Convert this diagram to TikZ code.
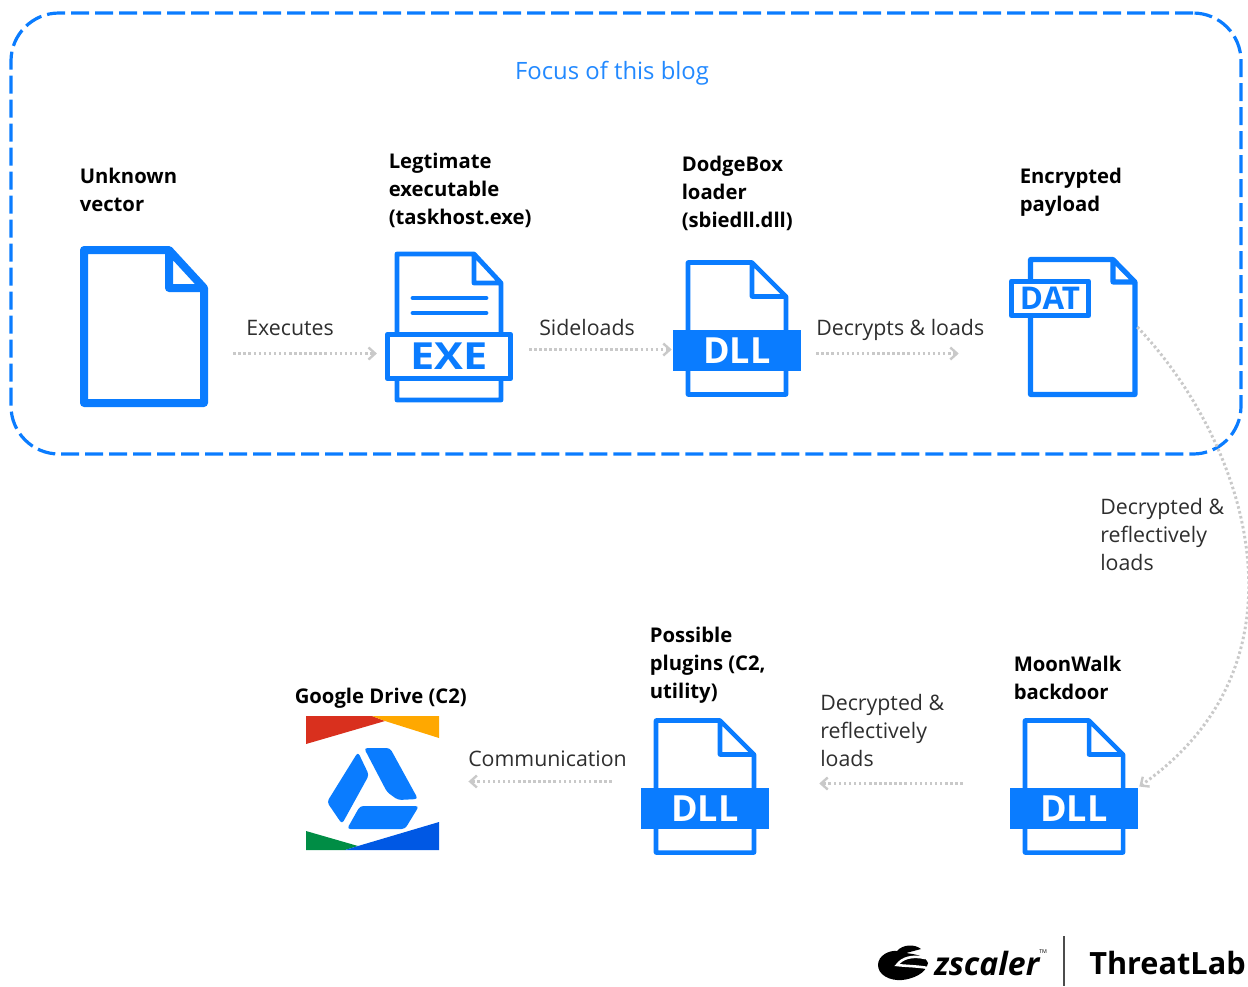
\documentclass[tikz,border=0pt]{standalone}
\usepackage{fontspec}
\setmainfont{Open Sans}
\newfontfamily\widefont[FakeStretch=1.16]{Open Sans}
\usepackage{tikz}
\usetikzlibrary{arrows.meta,positioning}

\definecolor{iconblue}{HTML}{0A7CFF}
\definecolor{flowgray}{HTML}{C9C9C9}
\definecolor{labeltext}{HTML}{2E2E2E}

\tikzset{
    iconline/.style={draw=iconblue, line join=round, fill=white},
    title/.style={inner sep=0pt, anchor=west, align=left, text=black, font=\fontsize{15.2}{21}\selectfont\bfseries},
    steptext/.style={inner sep=0pt, anchor=west, align=left, text=labeltext, font=\fontsize{16}{21}\selectfont},
    flow/.style={->, draw=flowgray, line width=2.2pt, dash pattern=on 1.9pt off 1.9pt},
    pics/dllicon/.style={
        code={
            \draw[iconline, line width=3.4pt] (-49,44) -- (-49,-88) -- (15,-88) -- (49,-54) -- (49,44) -- cycle
                (15,-88) -- (15,-54) -- (49,-54);
            \node[fill=iconblue, text=white, inner sep=0pt, minimum width=96pt, minimum height=31pt,
                font=\fontsize{27}{27}\selectfont\bfseries] (-band) at (0,0) {DLL};
        }
    }
}

\begin{document}
\begin{tikzpicture}[
                    x=0.75pt,
                    y=-0.75pt,
                    >={Straight Barb[length=5pt, width=9pt, line width=1.8pt]}
                ]
                \useasboundingbox (0,0) rectangle (1248,986);

                \node[draw=iconblue, line width=2.4pt, dash pattern=on 13.5pt off 4.5pt, rounded corners=36pt,
                    minimum width=922.5pt, minimum height=330.75pt] (focus) at (626,233.5) {};
                \node[text=iconblue!90!white, inner sep=0pt, font=\fontsize{17.9}{21}\selectfont] (focus-title) at (612,73) {Focus of this blog};

                \node[inner sep=0pt, minimum width=96pt, minimum height=120pt] (unknown) at (144,327) {};
                \draw[iconline, line width=6pt] (84,403) -- (84,250) -- (169,250) -- (204,288) -- (204,403) -- cycle
                    (169,250) -- (169,288) -- (204,288);

                \draw[iconline, line width=3.6pt] (397,400) -- (397,254) -- (474,254) -- (501,283) -- (501,400) -- cycle
                    (474,254) -- (474,283) -- (501,283);
                \draw[draw=iconblue, line width=3.6pt, line cap=round] (413,298) -- (486,298) (413,313) -- (486,313);
                \node[iconline, line width=3.6pt, text=iconblue, inner sep=0pt, minimum width=92.5pt, minimum height=33.5pt,
                    font=\fontsize{28}{28}\widefont\bfseries] (exe) at (449,356.5) {EXE};

                \pic (dodgebox) at (737,350.5) {dllicon};

                \node[inner sep=0pt, minimum width=81.75pt, minimum height=105pt] (payload) at (1082.5,327) {};
                \draw[iconline, line width=3.8pt] (1030.5,394.5) -- (1030.5,259.5) -- (1113,259.5) -- (1135,282) -- (1135,394.5) -- cycle
                    (1113,259.5) -- (1113,282) -- (1135,282);
                \node[iconline, line width=3.8pt, text=iconblue, inner sep=0pt, minimum width=58pt, minimum height=26pt,
                    font=\fontsize{23.5}{24}\selectfont\bfseries] (payload-tag) at (1050,298.5) {DAT};

                \pic (moonwalk) at (1074,808.5) {dllicon};
                \pic (plugins) at (705,808.5) {dllicon};

                \node[inner sep=0pt, minimum width=100pt, minimum height=100.5pt] (gdrive) at (372.5,783) {};
                \fill[fill={rgb,255:red,217;green,48;blue,30}] (306,716) -- (372,716) -- (385,721) -- (306,744) -- cycle;
                \fill[fill={rgb,255:red,255;green,168;blue,0}] (372,716) -- (439,716) -- (439,738) -- (385,721) -- cycle;
                \fill[fill={rgb,255:red,0;green,141;blue,69}] (306,831) -- (358,846) -- (345,850) -- (306,850) -- cycle;
                \fill[fill={rgb,255:red,0;green,88;blue,228}] (345,850) -- (439,850) -- (439,822) -- (358,846) -- cycle;
                \begin{scope}[rounded corners=2.5pt]
                    \fill[iconblue] (364,748) -- (390,748) -- (418,799) -- (398,800) -- (387,792) -- cycle;
                    \fill[iconblue] (358,752) -- (369,775) -- (342,824) -- (327,802) -- cycle;
                    \fill[iconblue] (360,806) -- (419,806) -- (405,829) -- (347,829) -- cycle;
                \end{scope}

                \node[title] (unknown-title) at (79.5,190) {Unknown\\vector};
                \node[title] (exe-title) at (388.5,190) {Legtimate\\executable\\(taskhost.exe)};
                \node[title] (dodgebox-title) at (681.5,193) {DodgeBox\\loader\\(sbiedll.dll)};
                \node[title] (payload-title) at (1019.5,192) {Encrypted\\payload};
                \node[title] (plugins-title) at (649.5,665) {Possible\\plugins (C2,\\utility)};
                \node[title] (moonwalk-title) at (1013.5,678) {MoonWalk\\backdoor};
                \node[title] (gdrive-title) at (294.5,698) {Google Drive (C2)};

                \node[steptext] (executes) at (246,328) {Executes};
                \node[steptext] (sideloads) at (539,327) {Sideloads};
                \node[steptext] (decrypts) at (816,330) {Decrypts \& loads};
                \node[steptext] (reflective-top) at (1100,534) {Decrypted \&\\reflectively\\loads};
                \node[steptext] (reflective-low) at (820,730) {Decrypted \&\\reflectively\\loads};
                \node[steptext] (communication) at (468,759) {Communication};

                \path
                ([shift={(25,26.5)}]unknown.east) edge[flow] ([shift={(-8,-3)}]exe.west)
                ([shift={(16,-7)}]exe.east) edge[flow] ([shift={(-1,-1)}]dodgebox-band.west)
                ([shift={(15,3)}]dodgebox-band.east) edge[flow] ([shift={(-69,26.5)}]payload.west)
                ([shift={(-47,-25)}]moonwalk-band.west) edge[flow] ([shift={(50,-25)}]plugins-band.east)
                ([shift={(-29,-27)}]plugins-band.west) edge[flow] ([shift={(29,-1.5)}]gdrive.east)
                ;
                \draw[flow] (payload.east) .. controls (1245,440) and (1320,660) .. ([shift={(1,-22)}]moonwalk-band.east);

                \fill[black] (878,965) .. controls (878,955) and (890,950) .. (897,951)
                    .. controls (903,944) and (915,944) .. (921,949) -- (906,953)
                    .. controls (913,954) and (925,955) .. (928,963)
                    .. controls (926,974) and (912,979) .. (902,980)
                    .. controls (890,981) and (878,975) .. (878,965) -- cycle;
                \draw[white, line width=1.9pt] (925,958) .. controls (912,955) and (902,958) .. (897,965) .. controls (905,966) and (917,966) .. (928,968);
                \node[inner sep=0pt, anchor=west, text=black, font=\fontsize{24}{24}\selectfont\bfseries\itshape] (zscaler-logo) at (934,963) {zscaler};
                \node[inner sep=0pt, anchor=west, text=black, font=\fontsize{4}{4}\selectfont] (zscaler-tm) at (1039,952) {TM};
                \node[inner sep=0pt, anchor=west, text=black, font=\fontsize{23}{24}\selectfont\bfseries] (threatlab) at (1089,963) {ThreatLab};
                \coordinate (divider-top) at (1064,936);
                \coordinate (divider-low) at (1064,986);
                \draw[black!70, line width=0.8pt] (divider-top) -- (divider-low);
            \end{tikzpicture}
\end{document}
